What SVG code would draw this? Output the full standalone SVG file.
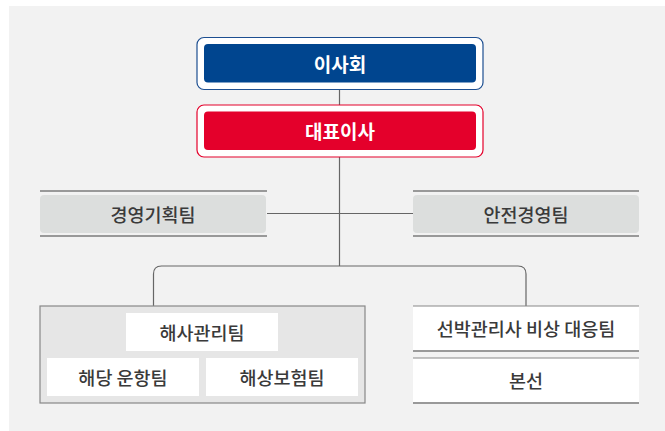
<svg xmlns="http://www.w3.org/2000/svg" width="665" height="431" viewBox="0 0 665 431">
<style>
text{font-family:"Noto Sans CJK KR","Noto Sans",sans-serif;text-anchor:middle;dominant-baseline:central}
.w{fill:#fff;font-size:19px;font-weight:bold}
.d{fill:#3a3a3a;font-size:18.5px;font-weight:500}
.ln{stroke:#666;stroke-width:1.2;fill:none}
.rule{stroke:#999;stroke-width:2}
</style>
<rect x="9" y="6" width="656" height="425" fill="#f2f2f2"/>
<g id="connectors" class="ln">
<line x1="339.5" y1="90" x2="339.5" y2="105"/>
<line x1="339.5" y1="157" x2="339.5" y2="266"/>
<line x1="267" y1="213.5" x2="413" y2="213.5"/>
<path d="M153.5 306 V274 Q153.5 266 161.5 266 H518 Q526 266 526 274 V306"/>
</g>
<g id="board">
<rect x="197" y="37.5" width="286" height="52" rx="7" fill="#fff" stroke="#1d4f91" stroke-width="1.2"/>
<rect x="204" y="44" width="272" height="38.5" rx="4" fill="#00458f"/>
<text class="w" x="340" y="63">이사회</text>
</g>
<g id="ceo">
<rect x="197" y="105" width="286" height="52" rx="7" fill="#fff" stroke="#e4002b" stroke-width="1.2"/>
<rect x="204" y="111.5" width="272" height="38.5" rx="4" fill="#e4002b"/>
<text class="w" x="340" y="130.5">대표이사</text>
</g>
<g id="planning">
<line class="rule" x1="40" y1="191" x2="267" y2="191"/>
<line class="rule" x1="40" y1="236" x2="267" y2="236"/>
<rect x="40" y="195" width="226" height="38" rx="4" fill="#dcdedd"/>
<text class="d" x="153" y="213.5">경영기획팀</text>
</g>
<g id="safety">
<line class="rule" x1="413" y1="191" x2="639" y2="191"/>
<line class="rule" x1="413" y1="236" x2="639" y2="236"/>
<rect x="413" y="195" width="226" height="38" rx="4" fill="#dcdedd"/>
<text class="d" x="526" y="213.5">안전경영팀</text>
</g>
<g id="marine-group">
<rect x="40" y="306" width="325" height="97" fill="#e6e6e6" stroke="#888" stroke-width="1.2"/>
</g>
<g id="marine-mgmt">
<rect x="126" y="313" width="152" height="38" fill="#fff"/>
<text class="d" x="202" y="331.5">해사관리팀</text>
</g>
<g id="operation">
<rect x="47" y="358" width="152" height="38" fill="#fff"/>
<text class="d" x="123" y="376.5">해당 운항팀</text>
</g>
<g id="insurance">
<rect x="206" y="358" width="152" height="38" fill="#fff"/>
<text class="d" x="282" y="376.5">해상보험팀</text>
</g>
<g id="emergency">
<rect x="413" y="306" width="226" height="45" fill="#fff"/>
<line class="rule" x1="413" y1="306" x2="639" y2="306" style="stroke:#888;stroke-width:1.2"/>
<line class="rule" x1="413" y1="351" x2="639" y2="351"/>
<text class="d" x="526" y="328">선박관리사 비상 대응팀</text>
</g>
<g id="vessel">
<rect x="413" y="358" width="226" height="45" fill="#fff"/>
<line class="rule" x1="413" y1="358" x2="639" y2="358" style="stroke:#888;stroke-width:1.2"/>
<line class="rule" x1="413" y1="403" x2="639" y2="403"/>
<text class="d" x="526" y="380">본선</text>
</g>
</svg>
